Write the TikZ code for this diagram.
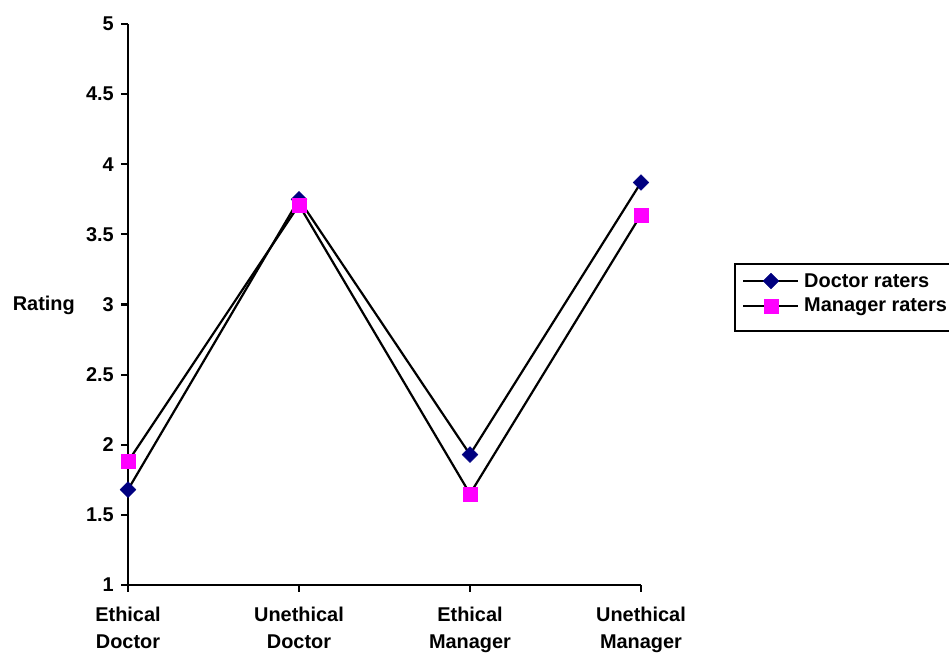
\documentclass[tikz,border=0pt]{standalone}
\usepackage{fontspec}
\setmainfont{Liberation Sans}
\usetikzlibrary{shapes.geometric}
\definecolor{docblue}{RGB}{0,0,128}
\definecolor{mgrpink}{RGB}{255,0,255}
\begin{document}
\begin{tikzpicture}[x=1bp,y=-1bp,
  lbl/.style={font=\fontsize{20}{27}\selectfont\bfseries, inner sep=0pt},
  axisline/.style={line width=2.2bp, black},
  series/.style={line width=2.2bp, black},
  dmark/.style={diamond, fill=docblue, draw=docblue, inner sep=0pt, minimum width=16bp, minimum height=16bp},
  smark/.style={rectangle, fill=mgrpink, draw=mgrpink, inner sep=0pt, minimum size=14bp}]
\useasboundingbox (0,0) rectangle (949,653);

% axes: value 1 at 585, value 5 at 24
\coordinate (orig) at (128,585);
\coordinate (ytop) at (128,24);
\coordinate (xend) at (641,585);
\draw[axisline] (ytop) -- (orig) -- (xend);

% y ticks and labels
\foreach \v/\t in {1/1,1.5/1.5,2/2,2.5/2.5,3/3,3.5/3.5,4/4,4.5/4.5,5/5}{
  \pgfmathsetmacro{\yy}{585-(\v-1)*140.25}
  \draw[axisline] (121,\yy) -- (128,\yy);
  \node[lbl, anchor=east] (yl\v) at (114,\yy) {\t};
}
\node[lbl, anchor=east] (ylab) at (75,305) {Rating};

% x ticks and category labels
\foreach \i/\xx/\la/\lb in {1/128/Ethical/Doctor,2/299/Unethical/Doctor,3/470/Ethical/Manager,4/641/Unethical/Manager}{
  \draw[axisline] (\xx,585) -- (\xx,592);
  \node[lbl, anchor=north, align=center] (cat\i) at (\xx,607) {\la\\\lb};
}

% data points
\foreach \i/\xx/\dv/\mv in {1/128/1.68/1.88,2/299/3.75/3.71,3/470/1.93/1.65,4/641/3.87/3.64}{
  \pgfmathsetmacro{\yd}{585-(\dv-1)*140.25}
  \pgfmathsetmacro{\ym}{585-(\mv-1)*140.25}
  \coordinate (d\i) at (\xx,\yd);
  \coordinate (m\i) at (\xx,\ym);
}
\draw[series] (d1) -- (d2) -- (d3) -- (d4);
\draw[series] (m1) -- (m2) -- (m3) -- (m4);
\foreach \i in {1,...,4}{
  \node[dmark] (dm\i) at (d\i) {};
}
\foreach \i in {1,...,4}{
  \node[smark] (mm\i) at (m\i) {};
}

% legend
\draw[line width=1.8bp] (735,264) rectangle (1000,331);
\coordinate (la1) at (743,281);
\coordinate (lb1) at (798,281);
\coordinate (la2) at (743,306);
\coordinate (lb2) at (798,306);
\draw[series] (la1) -- (lb1);
\draw[series] (la2) -- (lb2);
\node[dmark] (ld) at (771,281) {};
\node[smark] (lm) at (771,306) {};
\node[lbl, anchor=west] (lt1) at (804,281) {Doctor raters};
\node[lbl, anchor=west] (lt2) at (804,307) {Manager raters};
\end{tikzpicture}
\end{document}
